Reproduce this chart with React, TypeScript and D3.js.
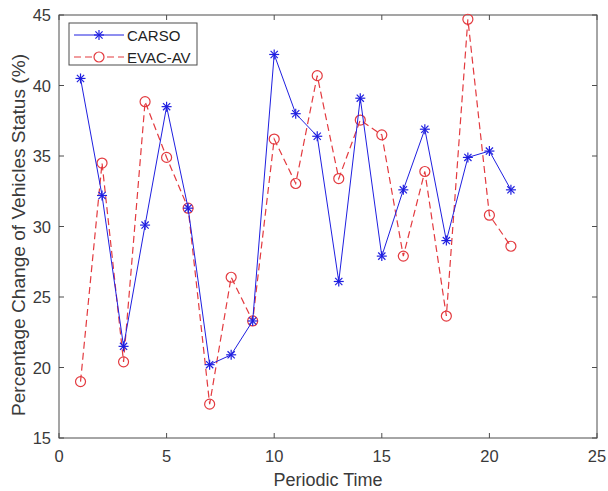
import * as d3 from 'd3'

const periods = d3.range(1, 22)
const carso = [40.5, 32.2, 21.5, 30.1, 38.5, 31.3, 20.2, 20.9, 23.3, 42.2, 38.0, 36.4, 26.1, 39.1, 27.9, 32.6, 36.9, 29.0, 34.9, 35.35, 32.6]
const evacAv = [19.0, 34.5, 20.4, 38.85, 34.9, 31.3, 17.4, 26.4, 23.3, 36.2, 33.05, 40.7, 33.4, 37.55, 36.5, 27.9, 33.9, 23.65, 44.7, 30.8, 28.6]
const xTicks = [0, 5, 10, 15, 20, 25]
const yTicks = [15, 20, 25, 30, 35, 40, 45]

const W = 608
const H = 491
const left = 59
const right = 597
const top = 15
const bottom = 438
const font = 'Liberation Sans, Arial, sans-serif'
const axisColor = '#4d4d4d'
const textColor = '#3a3a3a'
const blue = '#1f1fe0'
const red = '#e33a3f'

function Star({ x, y }: { x: number; y: number }) {
  const r = 5
  const d = r * 0.72
  return (
    <g stroke={blue} strokeWidth={1.2}>
      <line x1={x - r} y1={y} x2={x + r} y2={y} />
      <line x1={x} y1={y - r} x2={x} y2={y + r} />
      <line x1={x - d} y1={y - d} x2={x + d} y2={y + d} />
      <line x1={x - d} y1={y + d} x2={x + d} y2={y - d} />
    </g>
  )
}

export default function App() {
  const x = d3.scaleLinear().domain([0, 25]).range([left, right])
  const y = d3.scaleLinear().domain([15, 45]).range([bottom, top])
  const line = d3
    .line<number>()
    .x((_, i) => x(periods[i]))
    .y((d) => y(d))

  const tl = 5
  return (
    <svg width={W} height={H} style={{ position: 'absolute', left: 0, top: 0, background: '#fff' }} fontFamily={font}>
      <rect x={0} y={0} width={W} height={H} fill="#fff" />
      <rect x={left} y={top} width={right - left} height={bottom - top} fill="none" stroke={axisColor} strokeWidth={1} />
      {xTicks.map((t) => (
        <g key={'x' + t}>
          <line x1={x(t)} x2={x(t)} y1={bottom} y2={bottom - tl} stroke={axisColor} />
          <line x1={x(t)} x2={x(t)} y1={top} y2={top + tl} stroke={axisColor} />
          <text x={x(t)} y={bottom + 24} textAnchor="middle" fontSize={16.5} fill={textColor}>
            {t}
          </text>
        </g>
      ))}
      {yTicks.map((t) => (
        <g key={'y' + t}>
          <line x1={left} x2={left + tl} y1={y(t)} y2={y(t)} stroke={axisColor} />
          <line x1={right} x2={right - tl} y1={y(t)} y2={y(t)} stroke={axisColor} />
          <text x={left - 8} y={y(t) + 6} textAnchor="end" fontSize={16.5} fill={textColor}>
            {t}
          </text>
        </g>
      ))}
      <text x={328} y={486} textAnchor="middle" fontSize={18} fill={textColor}>
        Periodic Time
      </text>
      <text
        transform={`translate(25, 235) rotate(-90)`}
        textAnchor="middle"
        fontSize={18}
        textLength={362}
        lengthAdjust="spacingAndGlyphs"
        fill={textColor}
      >
        Percentage Change of Vehicles Status (%)
      </text>

      <path d={line(evacAv) || ''} fill="none" stroke={red} strokeWidth={1.2} strokeDasharray="7,4" />
      {evacAv.map((v, i) => (
        <circle key={'e' + i} cx={x(periods[i])} cy={y(v)} r={5} fill="none" stroke={red} strokeWidth={1.2} />
      ))}
      <path d={line(carso) || ''} fill="none" stroke={blue} strokeWidth={1} />
      {carso.map((v, i) => (
        <Star key={'c' + i} x={x(periods[i])} y={y(v)} />
      ))}

      <g>
        <rect x={69} y={23} width={128} height={42} fill="#fff" stroke={axisColor} strokeWidth={1} />
        <line x1={74} x2={124} y1={35} y2={35} stroke={blue} strokeWidth={1} />
        <Star x={99} y={35} />
        <text x={127} y={40.5} fontSize={15} fill="#222">
          CARSO
        </text>
        <line x1={74} x2={124} y1={57} y2={57} stroke={red} strokeWidth={1.2} strokeDasharray="7,4" />
        <circle cx={99} cy={57} r={5} fill="#fff" stroke={red} strokeWidth={1.2} />
        <text x={127} y={62.5} fontSize={15} fill="#222">
          EVAC-AV
        </text>
      </g>
    </svg>
  )
}
